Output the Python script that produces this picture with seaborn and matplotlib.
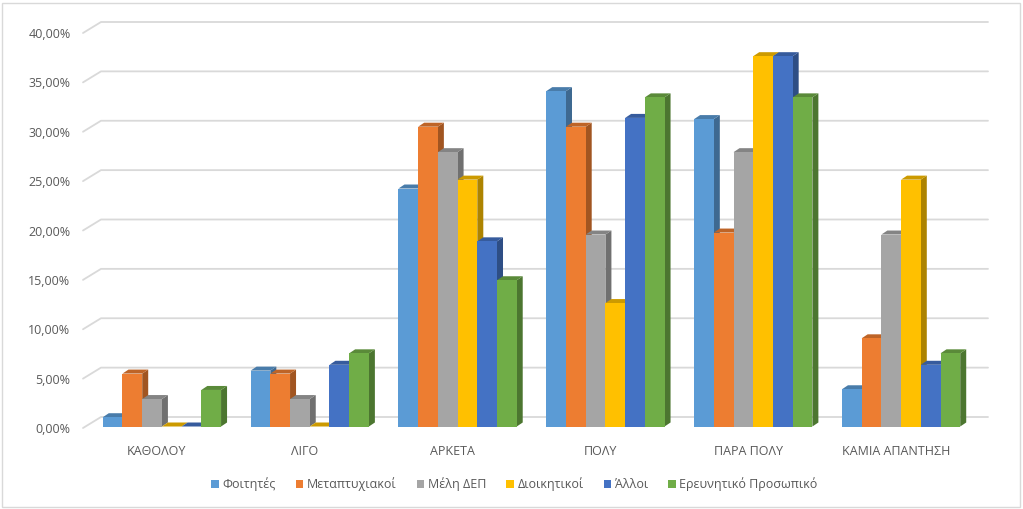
# Grouped 3D-style column chart (Excel look) rebuilt with seaborn
import pandas as pd
import matplotlib
matplotlib.use("Agg")
import matplotlib.pyplot as plt
from matplotlib.patches import Polygon, Rectangle
from matplotlib.colors import to_rgb
from matplotlib.ticker import FuncFormatter
import seaborn as sns

# ==============================
# 1. Data (percent per group)
# ==============================
categorias = ["ΚΑΘΟΛΟΥ", "ΛΙΓΟ", "ΑΡΚΕΤΑ", "ΠΟΛΥ", "ΠΑΡΑ ΠΟΛΥ", "ΚΑΜΙΑ ΑΠΑΝΤΗΣΗ"]
grupos = ["Φοιτητές", "Μεταπτυχιακοί", "Μέλη ΔΕΠ", "Διοικητικοί", "Άλλοι", "Ερευνητικό Προσωπικό"]

foitites = [0.94, 5.66, 24.1, 33.96, 31.13, 3.77]
metaptyxiakoi = [5.36, 5.36, 30.36, 30.36, 19.64, 8.93]
meli_dep = [2.78, 2.78, 27.78, 19.44, 27.78, 19.44]
dioikitikoi = [0.0, 0.0, 25.0, 12.5, 37.5, 25.0]
alloi = [0.0, 6.25, 18.75, 31.25, 37.5, 6.25]
ereunitiko = [3.70, 7.41, 14.81, 33.33, 33.33, 7.41]

colores = ["#5B9BD5", "#ED7D31", "#A5A5A5", "#FFC000", "#4472C4", "#70AD47"]

series = [foitites, metaptyxiakoi, meli_dep, dioikitikoi, alloi, ereunitiko]
filas = []
for grupo, valores in zip(grupos, series):
    for cat, v in zip(categorias, valores):
        filas.append({"categoria": cat, "grupo": grupo, "valor": v})
df = pd.DataFrame(filas)

# ==============================
# 2. Figure and base bars
# ==============================
sns.set_theme(style="white")
plt.rcParams["font.family"] = ["Open Sans", "DejaVu Sans"]

W, H = 1023, 509
fig = plt.figure(figsize=(W / 100, H / 100), dpi=100)
ax = fig.add_axes([83 / W, 81 / H, 887 / W, 395 / H])

sns.barplot(data=df, x="categoria", y="valor", hue="grupo",
            order=categorias, hue_order=grupos, palette=colores,
            saturation=1, width=0.8, linewidth=0, errorbar=None, ax=ax)

ax.set_xlim(-0.5, 5.5)
ax.set_ylim(0, 40)
fig.canvas.draw()


def px_a_datos(dx, dy):
    x0, y0 = ax.transData.transform((0, 0))
    x1, y1 = ax.transData.transform((1, 1))
    return dx / (x1 - x0), dy / (y1 - y0)


def oscurecer(color, f):
    r, g, b = to_rgb(color)
    return (r * f, g * f, b * f)


# ==============================
# 3. Fake 3D depth on each bar
# ==============================
ox, oy = px_a_datos(5, 1.5)
ddx, ddy = px_a_datos(6, 4)

for h, cont in enumerate(ax.containers):
    base_color = colores[h]
    for p in cont.patches:
        x, w, alto = p.get_x() + ox, p.get_width(), p.get_height()
        y0 = oy
        p.set_x(x)
        p.set_y(y0)
        p.set_zorder(3 + h * 0.1)
        top = y0 + alto
        lado = Polygon([(x + w, y0), (x + w + ddx, y0 + ddy),
                        (x + w + ddx, top + ddy), (x + w, top)],
                       closed=True, facecolor=oscurecer(base_color, 0.68),
                       edgecolor="none", zorder=3 + h * 0.1 - 0.05)
        tapa = Polygon([(x, top), (x + ddx, top + ddy),
                        (x + w + ddx, top + ddy), (x + w, top)],
                       closed=True, facecolor=oscurecer(base_color, 0.8),
                       edgecolor="none", zorder=3 + h * 0.1 - 0.05)
        ax.add_patch(lado)
        ax.add_patch(tapa)

# ==============================
# 4. Gridlines on the back wall
# ==============================
inv = ax.transData.inverted()
for v in range(0, 45, 5):
    xl, yv = ax.transData.transform((-0.5, v))
    xr, _ = ax.transData.transform((5.5, v))
    pts = [(xl, yv), (xl + 18, yv + 11), (xr + 18, yv + 11)]
    pts = [inv.transform(pt) for pt in pts]
    ax.plot([pt[0] for pt in pts], [pt[1] for pt in pts],
            color="#d9d9d9", lw=1.3, zorder=1, clip_on=False)

# ==============================
# 5. Axes, ticks and legend
# ==============================
for s in ax.spines.values():
    s.set_visible(False)
ax.set_xlabel("")
ax.set_ylabel("")
ax.set_yticks(range(0, 45, 5))
ax.yaxis.set_major_formatter(FuncFormatter(lambda v, _: f"{v:.2f}%".replace(".", ",")))
ax.tick_params(axis="y", length=0, pad=9, labelcolor="#595959", labelsize=9)
ax.tick_params(axis="x", length=0, pad=12, labelcolor="#595959", labelsize=9)

handles, labels = ax.get_legend_handles_labels()
if ax.get_legend() is not None:
    ax.get_legend().remove()
fig.legend(handles, labels, loc="center", bbox_to_anchor=(0.503, 0.049),
           bbox_transform=fig.transFigure, ncol=6, frameon=False,
           fontsize=9, labelcolor="#595959", handlelength=0.6, handleheight=0.6,
           handletextpad=0.3, columnspacing=1.6)

# chart area border
fig.patches.append(Rectangle((2 / W, 2 / H), 1018 / W, 504 / H,
                             transform=fig.transFigure, fill=False,
                             edgecolor="#d9d9d9", lw=1))

fig.savefig("out.png", dpi=100)
plt.close(fig)
